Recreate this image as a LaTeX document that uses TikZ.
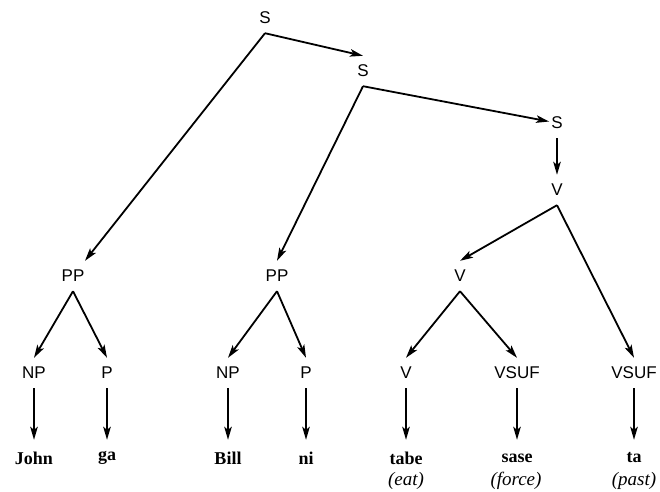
\documentclass[tikz,border=0pt]{standalone}
\usepackage{fontspec}
\setmainfont{Liberation Serif}
\newfontfamily\labfont{Liberation Sans}
\usetikzlibrary{arrows.meta}
\begin{document}
\begin{tikzpicture}[x=1pt,y=-1pt,
  cat/.style={font=\labfont\fontsize{17}{20}\selectfont, inner xsep=2pt, inner ysep=0pt, minimum height=30pt},
  leaf/.style={font=\bfseries\fontsize{18}{20}\selectfont, inner xsep=2pt, inner ysep=0pt, minimum height=36pt},
  gloss/.style={font=\itshape\fontsize{19}{20}\selectfont, inner sep=0pt},
  arr/.style={line width=1.8pt, -{Stealth[length=13pt,width=7.5pt,inset=3pt]}}]
\useasboundingbox (0,0) rectangle (660,491);
\node[cat] (s1) at (265,18) {S};
\node[cat] (s2) at (363,71) {S};
\node[cat] (s3) at (557,123) {S};
\node[cat] (v1) at (557,190) {V};
\node[cat] (pp1) at (73,276) {PP};
\node[cat] (pp2) at (277,276) {PP};
\node[cat] (vm) at (460,276) {V};
\node[cat] (np1) at (34,373) {NP};
\node[cat] (p1) at (107,373) {P};
\node[cat] (np2) at (228,373) {NP};
\node[cat] (p2) at (306,373) {P};
\node[cat] (v3) at (406,373) {V};
\node[cat] (vs1) at (517,373) {VSUF};
\node[cat] (vs2) at (634,373) {VSUF};
\node[leaf] (john) at (34,458) {John};
\node[leaf] (ga) at (107,458) {ga};
\node[leaf] (bill) at (228,458) {Bill};
\node[leaf] (ni) at (306,458) {ni};
\node[leaf] (tabe) at (406,458) {tabe};
\node[leaf] (sase) at (517,458) {sase};
\node[leaf] (ta) at (634,458) {ta};
\node[gloss] (eat) at (406,481) {(eat)};
\node[gloss] (force) at (516,481) {(force)};
\node[gloss] (past) at (634,481) {(past)};
\draw[arr] (s1.south) -- (s2.north);
\draw[arr] (s1.south) -- (pp1);
\draw[arr] (s2.south) -- (s3);
\draw[arr] (s2.south) -- (pp2.north);
\draw[arr] (s3.south) -- (v1.north);
\draw[arr] (v1.south) -- (vm.north);
\draw[arr] (v1.south) -- (vs2.north);
\draw[arr] (pp1.south) -- (np1.north);
\draw[arr] (pp1.south) -- (p1.north);
\draw[arr] (pp2.south) -- (np2.north);
\draw[arr] (pp2.south) -- (p2.north);
\draw[arr] (vm.south) -- (v3.north);
\draw[arr] (vm.south) -- (vs1.north);
\draw[arr] (np1.south) -- (john.north);
\draw[arr] (p1.south) -- (ga.north);
\draw[arr] (np2.south) -- (bill.north);
\draw[arr] (p2.south) -- (ni.north);
\draw[arr] (v3.south) -- (tabe.north);
\draw[arr] (vs1.south) -- (sase.north);
\draw[arr] (vs2.south) -- (ta.north);
\end{tikzpicture}
\end{document}
